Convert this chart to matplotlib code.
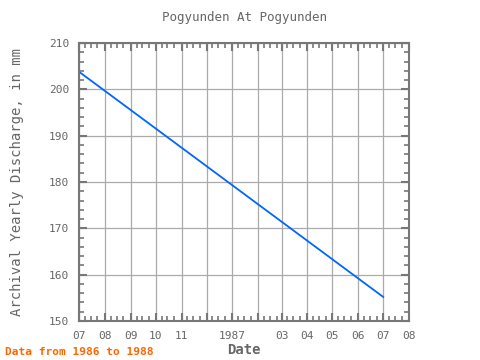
import matplotlib
matplotlib.use("Agg")
import matplotlib.pyplot as plt
import matplotlib.dates as mdates
import datetime as dt

dates = ["1986-07-01", "1987-07-01"]
values = [203.8, 155.2]
tick_months = ["1986-07-01", "1986-08-01", "1986-09-01", "1986-10-01", "1986-11-01",
               "1986-12-01", "1987-01-01", "1987-02-01", "1987-03-01", "1987-04-01",
               "1987-05-01", "1987-06-01", "1987-07-01", "1987-08-01"]
tick_labels = ["07", "08", "09", "10", "11", "", "1987", "", "03", "04", "05", "06", "07", "08"]
y_ticks = [150, 160, 170, 180, 190, 200, 210]

plt.rcParams['font.family'] = ['DejaVu Sans Mono']
gray = "#666666"
spine = "#777777"

fig = plt.figure(figsize=(4.8, 3.6), dpi=100)
ax = fig.add_axes([79/480, 1-321/360, 330/480, 278/360])

xd = [dt.datetime.strptime(d, "%Y-%m-%d") for d in dates]
ax.plot(xd, values, color="#0066ff", lw=1.3)

tk = [mdates.date2num(dt.datetime.strptime(d, "%Y-%m-%d")) for d in tick_months]
ax.set_xlim(tk[0], tk[-1])
ax.set_ylim(150, 210)
ax.set_xticks(tk)
ax.set_xticklabels(tick_labels)
ax.xaxis.set_minor_locator(mdates.DayLocator(bymonthday=[8, 15, 23]))
ax.set_yticks(y_ticks)
ax.yaxis.set_minor_locator(matplotlib.ticker.MultipleLocator(2))

ax.grid(True, which="major", color="#aaaaaa", lw=0.9)
ax.set_axisbelow(True)
for s in ax.spines.values():
    s.set_color(spine)
    s.set_linewidth(1.5)
ax.tick_params(which="major", direction="in", length=6, width=1.5, color=spine,
               top=True, right=True, labelsize=8, labelcolor=gray, pad=7)
ax.tick_params(which="minor", direction="in", length=3.5, width=1.2, color=spine,
               top=True, right=True)

ax.set_title("Pogyunden At Pogyunden", fontsize=9, color=gray, pad=16)
ax.set_xlabel("Date", fontsize=10, color=gray, fontweight="bold", labelpad=2)
ax.set_ylabel("Archival Yearly Discharge, in mm", fontsize=10, color=gray, labelpad=18)
fig.text(5/480, 1-352/360, "Data from 1986 to 1988", color="#ff6600", fontsize=8,
         fontweight="bold", va="center")

fig.savefig("out.png", dpi=100)
